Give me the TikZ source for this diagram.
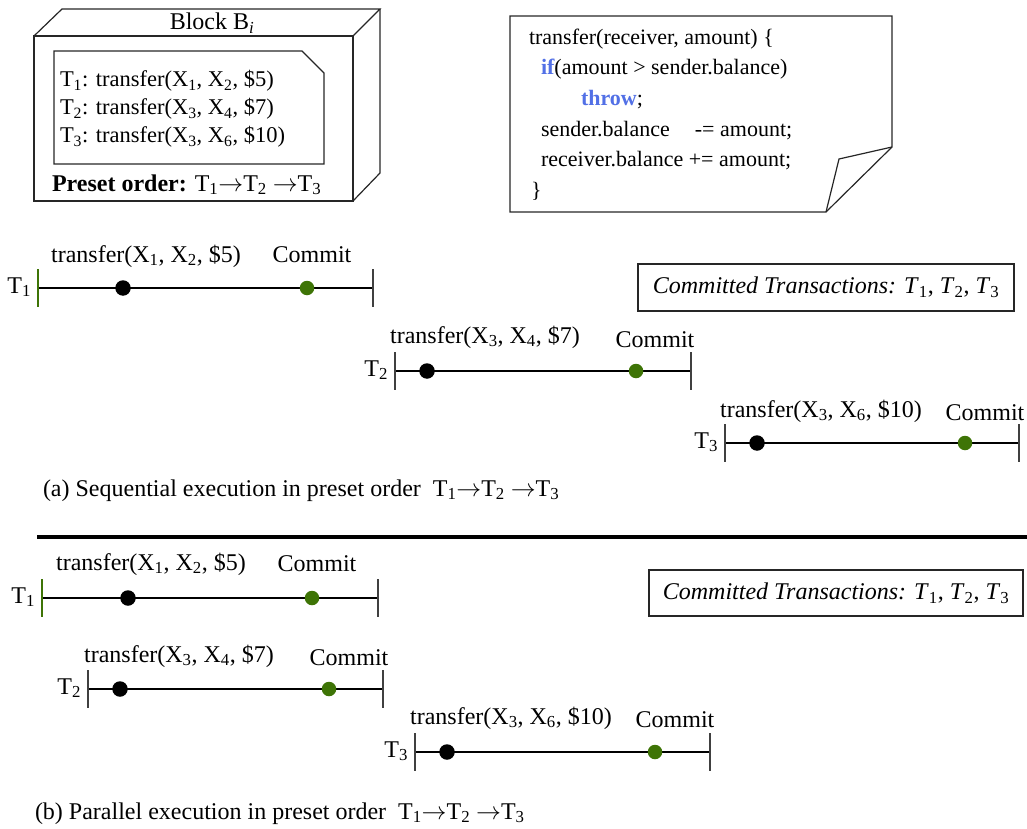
\documentclass[tikz,border=0pt]{standalone}
\usepackage{fontspec}
\setmainfont{Liberation Serif}
\definecolor{cgreen}{RGB}{62,116,6}
\definecolor{cblue}{RGB}{82,112,230}
\newcommand\fsbig{\fontsize{24}{28}\selectfont}
\newcommand\fsblk{\fontsize{22.5}{27}\selectfont}
\newcommand\fscode{\fontsize{22}{26}\selectfont}
\newcommand\sbs[1]{\textsubscript{#1}}
\newcommand\order{T\sbs{1}$\rightarrow$T\sbs{2} $\rightarrow$T\sbs{3}}
\newcommand\committed{\textit{Committed Transactions: T}\sbs{1}, \textit{T}\sbs{2}, \textit{T}\sbs{3}}
\begin{document}
\begin{tikzpicture}[x=1pt,y=-1pt,
  every node/.style={inner sep=0pt, outer sep=0pt, font=\fsbig},
  box/.style={draw=black!85, line width=1.2pt, line join=miter},
  tl/.style={line width=1.2pt},
  tickline/.style={draw=black!75, line width=1.3pt},
  bdot/.style={circle, fill=black, minimum size=15.5pt},
  gdot/.style={circle, fill=cgreen, minimum size=14.5pt},
  cbox/.style={draw=black!85, line width=1.2pt},
  code/.style={anchor=base west, font=\fscode},
  blkline/.style={anchor=base west, font=\fsblk}]
\useasboundingbox (0,0) rectangle (1027,829);

% ---------- Block B_i ----------
\draw[box] (34,36) rectangle (353,201);
\draw[box] (34,36) -- (62,9) -- (380,9) -- (353,36);
\draw[box] (380,9) -- (380,173) -- (353,201);
\node[anchor=base] (blk) at (212,30) {Block B\sbs{\itshape i}};
\draw[box] (54,51) -- (302,51) -- (324,73) -- (324,164) -- (54,164) -- cycle;
\node[blkline] (bt1) at (60,87) {T\sbs{1}: transfer(X\sbs{1}, X\sbs{2}, \$5)};
\node[blkline] (bt2) at (60,115) {T\sbs{2}: transfer(X\sbs{3}, X\sbs{4}, \$7)};
\node[blkline] (bt3) at (60,143) {T\sbs{3}: transfer(X\sbs{3}, X\sbs{6}, \$10)};
\node[anchor=base west] (pre) at (52,191) {\textbf{Preset order:} \order};

% ---------- Code note ----------
\draw[box] (510,16) -- (892,16) -- (892,147) -- (826,212) -- (510,212) -- cycle;
\draw[box] (892,147) -- (839,159) -- (826,212);
\node[code] (c1) at (529,45) {transfer(receiver, amount) \{};
\node[code] (c2) at (541,75) {\textbf{\color{cblue}if}(amount > sender.balance)};
\node[code] (c3) at (581,106) {\textbf{\color{cblue}throw};};
\node[code] (c4) at (541,137) {sender.balance\hspace*{25pt}-= amount;};
\node[code] (c5) at (541,167) {receiver.balance += amount;};
\node[code] (c6) at (531,197) {\}};

% ---------- (a) Sequential ----------
% T1
\coordinate (a1s) at (38,288); \coordinate (a1e) at (373,288);
\draw[tl] (a1s) -- (a1e);
\draw[tickline, draw=cgreen] ([yshift=19pt]a1s) -- ([yshift=-19pt]a1s);
\draw[tickline] ([yshift=19pt]a1e) -- ([yshift=-19pt]a1e);
\node[bdot] (a1b) at (123,288) {};
\node[gdot] (a1g) at (307,288) {};
\node[anchor=base east] (a1n) at (31,293) {T\sbs{1}};
\node[anchor=base] (a1t) at (146,262) {transfer(X\sbs{1}, X\sbs{2}, \$5)};
\node[anchor=base] (a1c) at (312,262) {Commit};
% T2
\coordinate (a2s) at (395,371); \coordinate (a2e) at (691,371);
\draw[tl] (a2s) -- (a2e);
\draw[tickline] ([yshift=19pt]a2s) -- ([yshift=-19pt]a2s);
\draw[tickline] ([yshift=19pt]a2e) -- ([yshift=-19pt]a2e);
\node[bdot] (a2b) at (427,371) {};
\node[gdot] (a2g) at (636,371) {};
\node[anchor=base east] (a2n) at (388,376) {T\sbs{2}};
\node[anchor=base] (a2t) at (485,343) {transfer(X\sbs{3}, X\sbs{4}, \$7)};
\node[anchor=base] (a2c) at (655,347) {Commit};
% T3
\coordinate (a3s) at (725,443); \coordinate (a3e) at (1019,443);
\draw[tl] (a3s) -- (a3e);
\draw[tickline] ([yshift=19pt]a3s) -- ([yshift=-19pt]a3s);
\draw[tickline] ([yshift=19pt]a3e) -- ([yshift=-19pt]a3e);
\node[bdot] (a3b) at (757,443) {};
\node[gdot] (a3g) at (965,443) {};
\node[anchor=base east] (a3n) at (718,448) {T\sbs{3}};
\node[anchor=base] (a3t) at (821,417) {transfer(X\sbs{3}, X\sbs{6}, \$10)};
\node[anchor=base] (a3c) at (985,420) {Commit};
% committed box
\node[cbox, minimum width=376pt, minimum height=47pt] (acom) at (826,287.5) {\committed};
\node[anchor=base west] (capa) at (43,496) {(a) Sequential execution in preset order\hspace*{6pt} \order};

% separator
\coordinate (sepl) at (37,537); \coordinate (sepr) at (1027,537);
\draw[line width=4pt] (sepl) -- (sepr);

% ---------- (b) Parallel ----------
% T1
\coordinate (b1s) at (42,598); \coordinate (b1e) at (378,598);
\draw[tl] (b1s) -- (b1e);
\draw[tickline, draw=cgreen] ([yshift=19pt]b1s) -- ([yshift=-19pt]b1s);
\draw[tickline] ([yshift=19pt]b1e) -- ([yshift=-19pt]b1e);
\node[bdot] (b1b) at (128,598) {};
\node[gdot] (b1g) at (312,598) {};
\node[anchor=base east] (b1n) at (35,603) {T\sbs{1}};
\node[anchor=base] (b1t) at (151,570) {transfer(X\sbs{1}, X\sbs{2}, \$5)};
\node[anchor=base] (b1c) at (317,571) {Commit};
% T2
\coordinate (b2s) at (88,689); \coordinate (b2e) at (383,689);
\draw[tl] (b2s) -- (b2e);
\draw[tickline] ([yshift=19pt]b2s) -- ([yshift=-19pt]b2s);
\draw[tickline] ([yshift=19pt]b2e) -- ([yshift=-19pt]b2e);
\node[bdot] (b2b) at (120,689) {};
\node[gdot] (b2g) at (329,689) {};
\node[anchor=base east] (b2n) at (81,694) {T\sbs{2}};
\node[anchor=base] (b2t) at (179,662) {transfer(X\sbs{3}, X\sbs{4}, \$7)};
\node[anchor=base] (b2c) at (349,665) {Commit};
% T3
\coordinate (b3s) at (415,752); \coordinate (b3e) at (710,752);
\draw[tl] (b3s) -- (b3e);
\draw[tickline] ([yshift=19pt]b3s) -- ([yshift=-19pt]b3s);
\draw[tickline] ([yshift=19pt]b3e) -- ([yshift=-19pt]b3e);
\node[bdot] (b3b) at (447,752) {};
\node[gdot] (b3g) at (655,752) {};
\node[anchor=base east] (b3n) at (408,757) {T\sbs{3}};
\node[anchor=base] (b3t) at (511,724) {transfer(X\sbs{3}, X\sbs{6}, \$10)};
\node[anchor=base] (b3c) at (675,727) {Commit};
% committed box
\node[cbox, minimum width=374pt, minimum height=46pt] (bcom) at (836,593) {\committed};
\node[anchor=base west] (capb) at (35,819) {(b) Parallel execution in preset order\hspace*{6pt} \order};
\end{tikzpicture}
\end{document}
